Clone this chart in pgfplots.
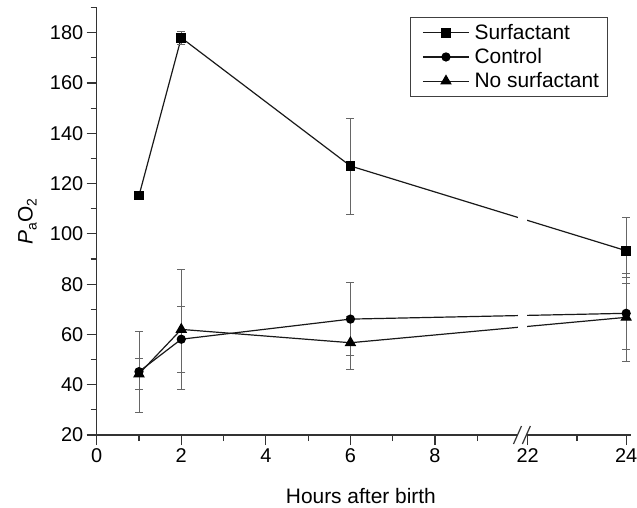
\documentclass[border=0pt]{standalone}
\usepackage{fontspec}
\setmainfont{Liberation Sans}
\usepackage{pgfplots}
\usepackage{pgfplotstable}
\pgfplotsset{compat=1.18}

% hours, PaO2, error (SD)
\pgfplotstableread{
x y e
1 115.2 0
2 178.0 2.7
6 127.0 19.1
24 93.3 13.2
}\surf
\pgfplotstableread{
x y e
1 45.2 16.1
2 58.1 13.1
6 66.1 14.4
24 68.4 14.4
}\ctrl
\pgfplotstableread{
x y e
1 44.3 6.0
2 62.0 24.0
6 56.7 10.6
24 66.8 17.6
}\nosurf

\begin{document}
\begin{tikzpicture}
\useasboundingbox (-96.7bp,-73bp) rectangle (540.3bp,435bp);
\begin{axis}[
  at={(0,0)}, anchor=south west,
  scale only axis, width=534.4bp, height=427.4bp,
  xmin=0, xmax=24.1, ymin=20, ymax=190,
  x coord trafo/.code={\pgfmathparse{ifthenelse(#1>15,10.19+(#1-22)*1.165,#1)}},
  clip=false,
  axis x line=bottom, axis y line=left,
  axis line style={-, line width=1.3bp, black!80},
  xtick={0,2,4,6,8,22,24}, xticklabels={0,2,4,6,8,22,24},
  minor xtick={1,3,5,7,9,23},
  ytick={20,40,...,180}, minor ytick={30,50,...,190},
  tick align=outside, major tick length=10bp, minor tick length=6bp,
  every tick/.style={line width=1.2bp, black!80},
  /pgf/number format/assume math mode=true,
  tick label style={font=\fontsize{20}{24}\selectfont, black},
  every axis x label/.style={at={([yshift=-68bp,xshift=-3bp]rel axis cs:0.5,0)}, anchor=base, font=\fontsize{21}{25}\selectfont},
  every axis y label/.style={at={([xshift=-64bp]rel axis cs:0,0.5)}, rotate=90, anchor=base, font=\fontsize{21}{25}\selectfont},
  xlabel={Hours after birth},
  ylabel={{\itshape P}\raisebox{-4bp}{\fontsize{14}{16}\selectfont a}O\raisebox{-4bp}{\fontsize{14}{16}\selectfont 2}},
  legend style={at={(0.9568,0.978)}, anchor=north east, draw=black!75, line width=1bp,
    font=\fontsize{21}{25}\selectfont, inner xsep=7bp, inner ysep=5.5bp, row sep=4.5bp,
    nodes={inner sep=1.5bp}},
  legend cell align=left,
  legend image code/.code={\draw[mark repeat=2,mark phase=2,#1] plot coordinates {(0bp,0bp) (23bp,0bp) (46bp,0bp)};
    \path (-4.5bp,0bp) (49.5bp,0bp);},
]
\addplot[black!90, line width=1.2bp, mark=square*, mark size=4.2bp, mark options={solid, fill=black, draw=black},
  error bars/.cd, y dir=both, y explicit,
  error bar style={black!60, line width=0.9bp},
  error mark options={rotate=90, mark size=4bp, black!60, line width=0.9bp}]
  table[x=x, y=y, y error=e] {\surf};
\addlegendentry{Surfactant}
\addplot[black!90, line width=1.2bp, mark=*, mark size=4bp, mark options={solid, fill=black, draw=black},
  error bars/.cd, y dir=both, y explicit,
  error bar style={black!60, line width=0.9bp},
  error mark options={rotate=90, mark size=4bp, black!60, line width=0.9bp}]
  table[x=x, y=y, y error=e] {\ctrl};
\addlegendentry{Control}
\addplot[black!90, line width=1.2bp, mark=triangle*, mark size=5.5bp, mark options={solid, fill=black, draw=black},
  error bars/.cd, y dir=both, y explicit,
  error bar style={black!60, line width=0.9bp},
  error mark options={rotate=90, mark size=4bp, black!60, line width=0.9bp}]
  table[x=x, y=y, y error=e] {\nosurf};
\addlegendentry{No surfactant}
% axis break
\fill[white] (axis cs:9.97,18.8) rectangle (axis cs:10.17,120);
\draw[black!80, line width=1.2bp] ([xshift=-4bp,yshift=-9bp]axis cs:9.95,20) -- ([xshift=4bp,yshift=9bp]axis cs:9.95,20);
\draw[black!80, line width=1.2bp] ([xshift=-4bp,yshift=-9bp]axis cs:10.16,20) -- ([xshift=4bp,yshift=9bp]axis cs:10.16,20);
\end{axis}
\end{tikzpicture}
\end{document}
